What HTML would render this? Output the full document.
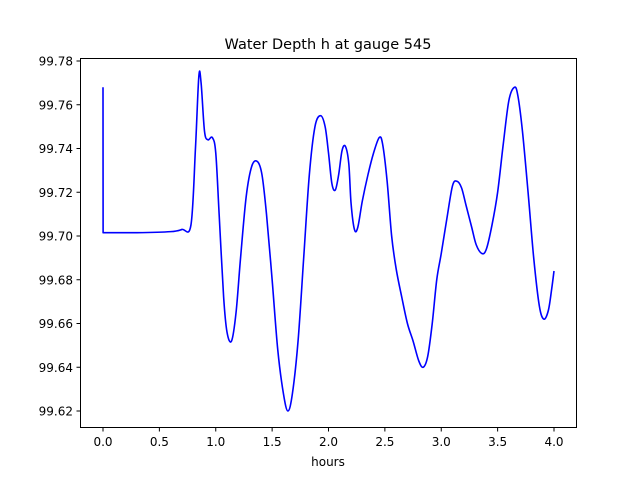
<!DOCTYPE html>
<html><head><meta charset="utf-8"><style>
html,body{margin:0;padding:0;background:#fff;}
svg{display:block;font-family:"DejaVu Sans","Liberation Sans",sans-serif;}
</style></head><body>
<svg id="chart" width="640" height="480">
<text x="328" y="49" text-anchor="middle" font-size="14.5">Water Depth h at gauge 545</text>
<text x="328" y="466" text-anchor="middle" font-size="12">hours</text>
<g id="ticks"></g>
<path id="line" fill="none" stroke="#0000ff" stroke-width="1.6" stroke-linejoin="round"/>
<rect x="80.5" y="58.5" width="496" height="369" fill="none" stroke="#000" stroke-width="1"/>
</svg>
<script>
const xTicks=[0,0.5,1,1.5,2,2.5,3,3.5,4];
const xTickLabels=["0.0","0.5","1.0","1.5","2.0","2.5","3.0","3.5","4.0"];
const yTicks=[99.62,99.64,99.66,99.68,99.70,99.72,99.74,99.76,99.78];
const yTickLabels=["99.62","99.64","99.66","99.68","99.70","99.72","99.74","99.76","99.78"];
const hours=[0,0.001,0.3,0.6,0.7,0.78,0.82,0.85,0.87,0.9,0.93,0.97,1.0,1.03,1.07,1.1,1.14,1.18,1.22,1.27,1.32,1.37,1.41,1.45,1.5,1.55,1.6,1.64,1.68,1.73,1.78,1.83,1.88,1.93,1.97,2.0,2.03,2.06,2.09,2.12,2.15,2.18,2.2,2.23,2.26,2.3,2.35,2.4,2.45,2.48,2.52,2.56,2.6,2.65,2.7,2.75,2.8,2.84,2.88,2.92,2.96,3.0,3.05,3.1,3.14,3.18,3.22,3.27,3.31,3.36,3.4,3.45,3.5,3.55,3.6,3.65,3.68,3.72,3.77,3.82,3.87,3.91,3.95,3.98,4.0];
const depth=[99.768,99.7015,99.7015,99.702,99.703,99.705,99.74,99.773,99.77,99.748,99.744,99.745,99.738,99.71,99.672,99.656,99.652,99.665,99.69,99.718,99.732,99.734,99.728,99.71,99.68,99.648,99.628,99.620,99.628,99.652,99.69,99.728,99.75,99.755,99.75,99.738,99.724,99.721,99.728,99.739,99.741,99.733,99.715,99.703,99.704,99.716,99.728,99.738,99.745,99.742,99.725,99.700,99.685,99.672,99.66,99.652,99.643,99.640,99.645,99.66,99.68,99.692,99.708,99.723,99.725,99.722,99.714,99.704,99.696,99.692,99.694,99.705,99.72,99.742,99.762,99.768,99.764,99.748,99.72,99.69,99.668,99.662,99.666,99.676,99.684];
const X=t=>103+t*112.75;
const Y=v=>411-(v-99.62)/0.02*43.75;
const NS="http://www.w3.org/2000/svg";
const g=document.getElementById('ticks');
function mk(tag,attrs,txt){const e=document.createElementNS(NS,tag);for(const k in attrs)e.setAttribute(k,attrs[k]);if(txt!==undefined)e.textContent=txt;g.appendChild(e);return e;}
xTicks.forEach((t,i)=>{
  const l=mk('line',{x1:X(t),x2:X(t),y1:427.5,y2:431.5,stroke:'#000'});
  
  
  const tx=mk('text',{x:X(t),y:446,'text-anchor':'middle','font-size':12},xTickLabels[i]);
  
  
});
yTicks.forEach((v,i)=>{
  const l=mk('line',{x1:76.5,x2:80.5,y1:Y(v),y2:Y(v),stroke:'#000'});
  
  
  const tx=mk('text',{x:73,y:Y(v)+4.5,'text-anchor':'end','font-size':12},yTickLabels[i]);
  
  
});
const P=hours.map((t,i)=>[X(t),Y(depth[i])]);
let d='M'+P[0][0].toFixed(2)+','+P[0][1].toFixed(2)+'L'+P[1][0].toFixed(2)+','+P[1][1].toFixed(2)+'L'+P[2][0].toFixed(2)+','+P[2][1].toFixed(2);
for(let i=2;i<P.length-1;i++){
  const p0=P[i-1],p1=P[i],p2=P[i+1],p3=P[Math.min(i+2,P.length-1)];
  const c1=[p1[0]+(p2[0]-p0[0])/6,p1[1]+(p2[1]-p0[1])/6];
  const c2=[p2[0]-(p3[0]-p1[0])/6,p2[1]-(p3[1]-p1[1])/6];
  d+='C'+c1[0].toFixed(2)+','+c1[1].toFixed(2)+' '+c2[0].toFixed(2)+','+c2[1].toFixed(2)+' '+p2[0].toFixed(2)+','+p2[1].toFixed(2);
}
document.getElementById('line').setAttribute('d',d);
</script>
</body></html>
